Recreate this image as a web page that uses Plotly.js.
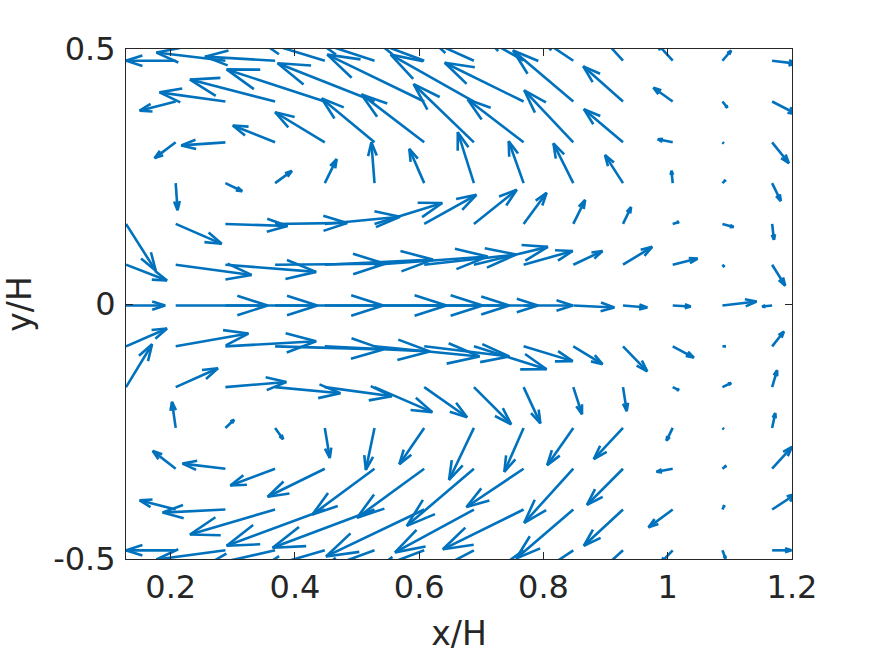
<!DOCTYPE html>
<html>
<head>
<meta charset="utf-8">
<script src="https://cdn.plot.ly/plotly-3.0.1.min.js"></script>
<style>
  html, body { margin: 0; padding: 0; background: #fff; }
  #chart { width: 875px; height: 656px; }
</style>
</head>
<body>
<div id="chart"></div>
<script>
// grid of arrow tails
const xs = [0.128, 0.208, 0.288, 0.368, 0.448, 0.528, 0.608, 0.688, 0.768, 0.848, 0.928, 1.008, 1.088, 1.168];
const ys = [0.477, 0.397, 0.317, 0.237, 0.157, 0.077, -0.003, -0.083, -0.163, -0.243, -0.323, -0.403, -0.483];

// drawn arrow components (x/H, y/H), one row per y, top to bottom
const U = [
  [-0.064, -0.080, -0.111, -0.113, -0.105, -0.088, -0.072, -0.064, -0.056, -0.048, -0.032, -0.026, 0.014, 0.040],
  [-0.064, -0.058, -0.106, -0.137, -0.158, -0.156, -0.156, -0.134, -0.127, -0.097, -0.064, -0.031, 0.008, 0.040],
  [-0.048, -0.034, -0.071, -0.068, -0.080, -0.085, -0.101, -0.097, -0.090, -0.079, -0.063, -0.024, 0.002, 0.027],
  [-0.032, 0.003, 0.027, 0.027, 0.019, -0.005, -0.024, -0.026, -0.024, -0.032, -0.029, -0.002, 0.005, 0.014],
  [0.048, 0.074, 0.100, 0.116, 0.121, 0.109, 0.084, 0.069, 0.037, 0.019, 0.013, 0.010, 0.018, 0.003],
  [0.066, 0.122, 0.146, 0.177, 0.174, 0.182, 0.148, 0.119, 0.079, 0.047, 0.047, 0.040, 0.003, 0.021],
  [0.063, 0.148, 0.148, 0.174, 0.196, 0.174, 0.137, 0.103, 0.079, 0.066, 0.039, 0.029, 0.055, -0.016],
  [0.066, 0.117, 0.146, 0.174, 0.169, 0.169, 0.137, 0.117, 0.079, 0.047, 0.039, 0.034, 0.005, 0.019],
  [0.042, 0.068, 0.098, 0.105, 0.108, 0.093, 0.069, 0.060, 0.027, 0.014, 0.006, 0.010, 0.014, 0.008],
  [-0.032, -0.006, 0.014, 0.013, 0.008, -0.014, -0.040, -0.040, -0.031, -0.042, -0.047, -0.010, 0.002, 0.005],
  [-0.048, -0.037, -0.069, -0.072, -0.092, -0.100, -0.108, -0.108, -0.092, -0.079, -0.058, -0.026, 0.006, 0.032],
  [-0.064, -0.058, -0.101, -0.137, -0.158, -0.164, -0.158, -0.127, -0.130, -0.092, -0.063, -0.039, 0.003, 0.039],
  [-0.064, -0.080, -0.111, -0.113, -0.105, -0.088, -0.072, -0.064, -0.056, -0.048, -0.032, -0.019, 0.005, 0.031]
];
const V = [
  [0, 0, 0.016, 0.008, 0.039, 0.035, 0.033, 0.035, 0.039, 0.039, 0.043, 0.035, 0.020, -0.006],
  [0, -0.018, 0.018, 0.043, 0.063, 0.075, 0.092, 0.092, 0.076, 0.100, 0.069, 0.027, -0.012, -0.025],
  [0, -0.031, -0.006, 0.033, 0.059, 0.086, 0.094, 0.114, 0.084, 0.102, 0.065, 0.006, -0.002, -0.041],
  [0, -0.053, -0.016, 0.024, 0.047, 0.080, 0.067, 0.100, 0.082, 0.078, 0.055, 0.024, 0.006, -0.035],
  [-0.092, -0.039, -0.004, 0.002, 0.014, 0.041, 0.057, 0.067, 0.061, 0.047, 0.033, 0.004, -0.006, -0.031],
  [-0.031, -0.020, -0.014, 0.002, 0.010, 0.016, 0.020, 0.035, 0.027, 0.027, 0.035, 0.012, -0.004, -0.041],
  [0, 0, 0, 0, 0, 0, 0, 0, 0, -0.004, -0.004, -0.002, 0.008, -0.002],
  [0.035, 0.025, 0.010, -0.006, -0.010, -0.020, -0.020, -0.045, -0.029, -0.035, -0.049, -0.022, 0, 0.029],
  [0.084, 0.037, 0.010, -0.012, -0.018, -0.049, -0.059, -0.073, -0.071, -0.053, -0.047, -0.006, 0.008, 0.033],
  [0, 0.051, 0.016, -0.022, -0.059, -0.082, -0.071, -0.102, -0.086, -0.073, -0.061, -0.025, -0.002, 0.029],
  [0, 0.035, 0.010, -0.033, -0.055, -0.090, -0.096, -0.112, -0.075, -0.106, -0.071, -0.006, 0.006, 0.043],
  [0, 0.018, -0.006, -0.049, -0.071, -0.075, -0.092, -0.084, -0.078, -0.096, -0.071, -0.035, 0.008, 0.031],
  [0, 0, -0.018, -0.031, -0.037, -0.039, -0.033, -0.041, -0.049, -0.039, -0.035, -0.024, -0.016, 0]
];

const xTicks = [0.2, 0.4, 0.6, 0.8, 1, 1.2];
const xTickText = ['0.2', '0.4', '0.6', '0.8', '1', '1.2'];
const yTicks = [-0.5, 0, 0.5];
const yTickText = ['-0.5', '0', '0.5'];

const W = 875, Hh = 656;
const margin = { l: 126, r: 83, t: 49, b: 97, pad: 0 };
const xRange = [0.128, 1.2], yRange = [-0.5, 0.5];
const kx = (W - margin.l - margin.r) / (xRange[1] - xRange[0]);
const ky = (Hh - margin.t - margin.b) / (yRange[1] - yRange[0]);

// build quiver segments (shaft + open head) in axis units
const lx = [], ly = [];
for (let j = 0; j < ys.length; j++) {
  for (let i = 0; i < xs.length; i++) {
    const x0 = xs[i], y0 = ys[j];
    const u = U[j][i], v = V[j][i];
    const x1 = x0 + u, y1 = y0 + v;
    lx.push(x0, x1, null); ly.push(y0, y1, null);
    const px = u * kx, py = v * ky;
    const L = Math.hypot(px, py);
    if (L < 1) continue;
    const h = Math.min(0.33 * L, 32), w = 0.32 * h;
    const ex = px / L, ey = py / L;
    const bx = -h * ex, by = -h * ey;
    lx.push(x1 + (bx - w * ey) / kx, x1, x1 + (bx + w * ey) / kx, null);
    ly.push(y1 + (by + w * ex) / ky, y1, y1 + (by - w * ex) / ky, null);
  }
}

const trace = {
  x: lx, y: ly,
  type: 'scatter', mode: 'lines',
  line: { color: '#0072BD', width: 2.6 },
  hoverinfo: 'skip', showlegend: false
};

const axisStyle = {
  showline: true, mirror: 'ticks', linecolor: '#262626', linewidth: 1,
  ticks: 'inside', ticklen: 7, tickcolor: '#262626', tickwidth: 1,
  showgrid: false, zeroline: false,
  tickfont: { family: 'DejaVu Sans', size: 32, color: '#262626' }
};

const layout = {
  width: W, height: Hh,
  margin: margin,
  paper_bgcolor: '#fff', plot_bgcolor: '#fff',
  xaxis: Object.assign({}, axisStyle, {
    range: xRange, tickvals: xTicks, ticktext: xTickText,
    title: { text: 'x/H', font: { family: 'DejaVu Sans', size: 33, color: '#262626' }, standoff: 16 }
  }),
  yaxis: Object.assign({}, axisStyle, {
    range: yRange, tickvals: yTicks, ticktext: yTickText, ticklabelstandoff: 3,
    title: { text: 'y/H', font: { family: 'DejaVu Sans', size: 33, color: '#262626' }, standoff: 12 }
  })
};

Plotly.newPlot('chart', [trace], layout, { staticPlot: true });
</script>
</body>
</html>
